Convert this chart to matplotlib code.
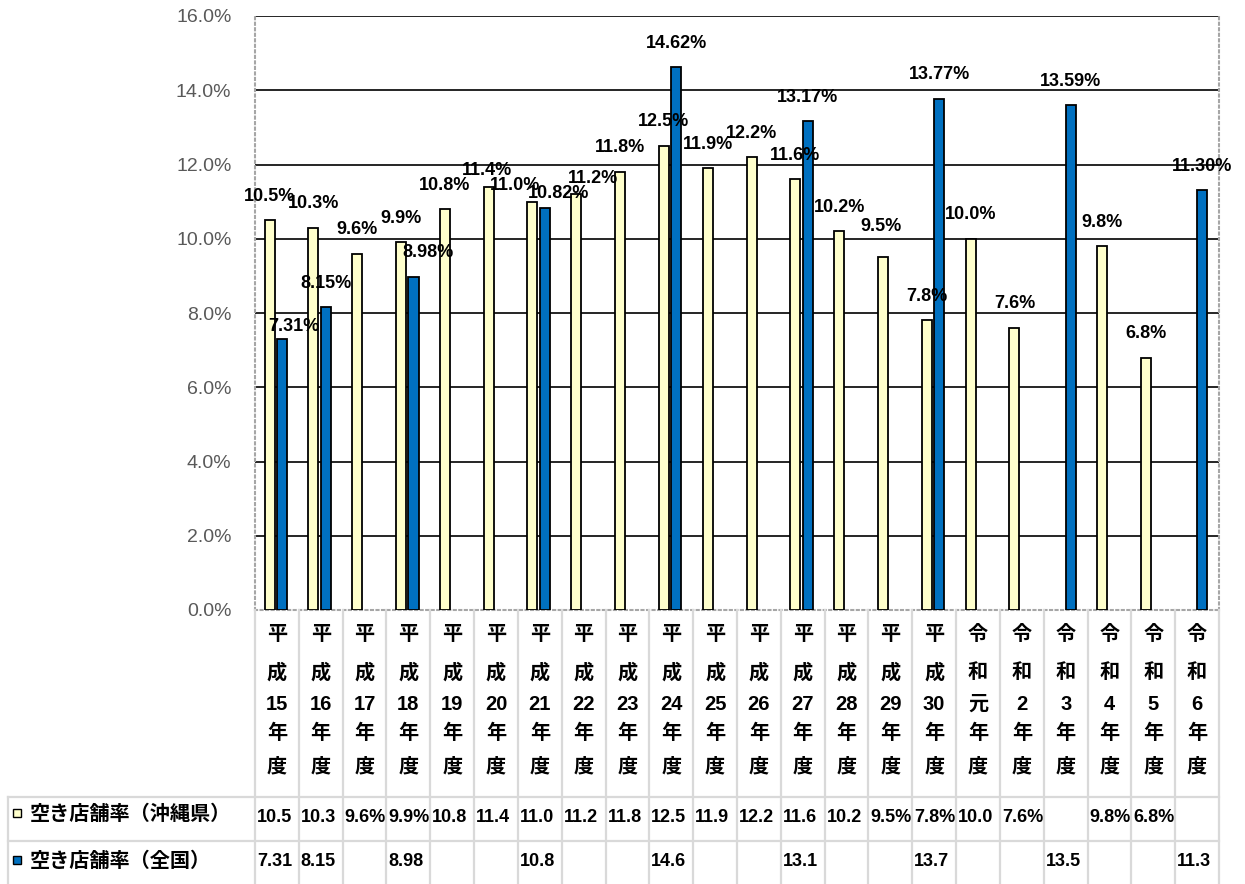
import numpy as np
import matplotlib
matplotlib.use('Agg')
import matplotlib.pyplot as plt
from matplotlib.patches import Rectangle
from matplotlib.transforms import blended_transform_factory

plt.rcParams['font.family'] = ['Liberation Sans', 'Noto Sans CJK JP', 'DejaVu Sans']

# data
years = ['平成15年度', '平成16年度', '平成17年度', '平成18年度', '平成19年度', '平成20年度',
         '平成21年度', '平成22年度', '平成23年度', '平成24年度', '平成25年度', '平成26年度',
         '平成27年度', '平成28年度', '平成29年度', '平成30年度', '令和元年度', '令和2年度',
         '令和3年度', '令和4年度', '令和5年度', '令和6年度']
okinawa = [10.5, 10.3, 9.6, 9.9, 10.8, 11.4, 11.0, 11.2, 11.8, 12.5, 11.9, 12.2,
           11.6, 10.2, 9.5, 7.8, 10.0, 7.6, np.nan, 9.8, 6.8, np.nan]
national = [7.31, 8.15, np.nan, 8.98, np.nan, np.nan, 10.82, np.nan, np.nan, 14.62, np.nan, np.nan,
            13.17, np.nan, np.nan, 13.77, np.nan, np.nan, 13.59, np.nan, np.nan, 11.30]
series_names = ['空き店舗率（沖縄県）', '空き店舗率（全国）']
yticks = [0, 2, 4, 6, 8, 10, 12, 14, 16]

# label nudges (pixels) where the labels were moved by hand
ok_nudge = {5: (-2, -8), 6: (-17, -8), 7: (17, -8), 14: (-2, 7)}
nat_nudge = {0: (12, -12), 3: (15, 0), 6: (14, -9)}

colors = ['#FFFFCC', '#0070C0']
W, H = 1245, 884

fig = plt.figure(figsize=(W / 100, H / 100), dpi=100)
ax = fig.add_axes([255 / W, 1 - 610 / H, 964 / W, 594 / H])

x = np.arange(len(years))
ok = np.array(okinawa)
nat = np.array(national)
m1 = ~np.isnan(ok)
m2 = ~np.isnan(nat)
ax.bar(x[m1] - 0.168, ok[m1], width=0.23, color=colors[0], edgecolor='black', linewidth=1.3, zorder=3)
ax.bar(x[m2] + 0.117, nat[m2], width=0.23, color=colors[1], edgecolor='black', linewidth=1.3, zorder=3)

for i in x[m1]:
    dx, dy = ok_nudge.get(i, (0, 0))
    ax.annotate('%.1f%%' % ok[i], xy=(i - 0.168, ok[i]), xytext=(dx, 24 + dy),
                textcoords='offset pixels', ha='center', va='center',
                fontsize=13, fontweight='bold', zorder=5)
for i in x[m2]:
    dx, dy = nat_nudge.get(i, (0, 0))
    ax.annotate('%.2f%%' % nat[i], xy=(i + 0.117, nat[i]), xytext=(dx, 24 + dy),
                textcoords='offset pixels', ha='center', va='center',
                fontsize=13, fontweight='bold', zorder=5)

for t in yticks[1:]:
    ax.axhline(t, color='black', linewidth=1.2, zorder=1)

ax.set_xlim(-0.5, len(years) - 0.5)
ax.set_ylim(0, 16)
ax.set_yticks(yticks)
ax.set_yticklabels(['%.1f%%' % t for t in yticks], fontsize=14, color='#595959')
ax.tick_params(axis='y', length=0, pad=17)
ax.set_xticks([])
for s in ['left', 'right', 'bottom']:
    ax.spines[s].set_color('#A6A6A6')
    ax.spines[s].set_linestyle(':')
    ax.spines[s].set_linewidth(1.5)
ax.spines['top'].set_visible(False)

# data table below the plot
tab = fig.add_axes([0, 0, 1, 1])
tab.set_xlim(0, W)
tab.set_ylim(H, 0)
tab.axis('off')
trans = blended_transform_factory(ax.transData, tab.transData)
grid_c = '#D9D9D9'
right_px = ax.get_position().x1 * W

for k in range(len(years) + 1):
    tab.plot([k - 0.5, k - 0.5], [610, H], transform=trans, color=grid_c, lw=1.6)
tab.plot([8, 8], [797, H], color=grid_c, lw=1.6)
tab.plot([8, right_px], [797, 797], color=grid_c, lw=1.6)
tab.plot([8, right_px], [841, 841], color=grid_c, lw=1.6)

row_y = [634, 673, 704, 733, 767]
for i, lab in enumerate(years):
    parts = [lab[0], lab[1], lab[2:-2], lab[-2], lab[-1]]
    for p, yy in zip(parts, row_y):
        tab.text(i, yy, p, transform=trans, ha='center', va='center',
                 fontsize=14.5, fontweight='bold')

legend_y = [814, 861]
for name, c, yy in zip(series_names, colors, legend_y):
    tab.add_patch(Rectangle((13, yy - 5), 8, 8, facecolor=c, edgecolor='black', lw=1.0))
    tab.text(30, yy, name, ha='left', va='center', fontsize=14.5, fontweight='bold')

for i in range(len(years)):
    if not np.isnan(ok[i]):
        tab.annotate(('%.1f%%' % ok[i])[:4], xy=(i - 0.5, 818), xycoords=trans,
                     xytext=(2, 0), textcoords='offset pixels', ha='left', va='center',
                     fontsize=13, fontweight='bold')
    if not np.isnan(nat[i]):
        tab.annotate(('%.2f%%' % nat[i])[:4], xy=(i - 0.5, 862), xycoords=trans,
                     xytext=(2, 0), textcoords='offset pixels', ha='left', va='center',
                     fontsize=13, fontweight='bold')

fig.savefig('out.png', dpi=100)
